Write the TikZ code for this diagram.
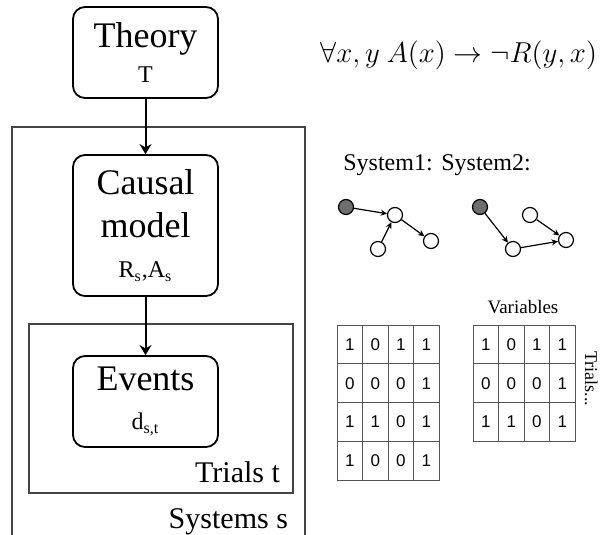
\documentclass[tikz,border=0pt]{standalone}
\usepackage{fontspec}
\setmainfont{Liberation Serif}
\newfontfamily\cellfont{Liberation Sans}
\usetikzlibrary{arrows.meta,positioning}
\definecolor{plateGray}{HTML}{444444}
\definecolor{gridGray}{HTML}{555555}
\definecolor{rootGray}{HTML}{6E6E6E}
\tikzset{
  cmArrow/.style={-{Stealth[length=5pt,width=6pt]}, line width=1pt},
  cmEdge/.style={-{Stealth[length=3.2pt,width=3pt]}, line width=0.6pt},
  cmBox/.style={
    draw,
    rounded corners=6pt,
    line width=0.9pt,
    align=center,
    minimum width=72.5pt,
    inner sep=0pt,
    font=\fontsize{18}{21}\selectfont
  },
  cmPlate/.style={draw=plateGray, line width=0.6pt},
  cmVar/.style={circle, draw, line width=0.6pt, fill=white, minimum size=7.5pt, inner sep=0pt},
  cmVarRoot/.style={cmVar, fill=rootGray},
  cmCell/.style={
    draw=gridGray,
    line width=0.5pt,
    minimum width=12.75pt,
    minimum height=19.4pt,
    inner sep=0pt,
    font=\cellfont\fontsize{8.5}{8.5}\selectfont
  }
}
\newcommand{\boxsub}{\fontsize{12}{14}\selectfont}

\begin{document}
\begin{tikzpicture}[x=0.5pt, y=-0.5pt]
  \useasboundingbox (0,0) rectangle (600,535);

  % plates
  \draw[cmPlate] (12,535) -- (12,127) -- (305,127) -- (305,535);
  \draw[cmPlate] (29,324) rectangle (293,493);
  \node[anchor=base east, font=\fontsize{15}{15}\selectfont] (systemslbl) at (295,528) {Systems s};
  \node[anchor=base east, font=\fontsize{15}{15}\selectfont] (trialslbl) at (287,482) {Trials t};

  % model levels
  \node[cmBox, minimum height=45.5pt] (theory) at (145.5,52.5)
    {Theory\\[-3.5pt]\boxsub T};
  \node[cmBox, minimum height=70.5pt] (causal) at (145.5,225.5)
    {Causal\\[0.5pt]model\\[-1pt]\boxsub R\textsubscript{s},A\textsubscript{s}};
  \node[cmBox, minimum height=45.5pt] (events) at (145.5,401.5)
    {Events\\[-1.5pt]\boxsub d\textsubscript{s,t}};
  \draw[cmArrow] (theory) -- (causal);
  \draw[cmArrow] (causal) -- (events);

  % theory formula
  \node[anchor=base west, inner sep=0pt, font=\fontsize{14}{14}\selectfont] (formula) at (320,63)
    {$\forall x, y\ A(x) \rightarrow \neg R(y,x)$};

  % example systems
  \node[anchor=base, font=\fontsize{12}{12}\selectfont] (sys1lbl) at (388,170) {System1:};
  \node[anchor=base, font=\fontsize{12}{12}\selectfont] (sys2lbl) at (486,170) {System2:};

  \node[cmVarRoot] (a1) at (346,207) {};
  \node[cmVar] (b1) at (395,215) {};
  \node[cmVar] (c1) at (431,241) {};
  \node[cmVar] (d1) at (378,249) {};
  \draw[cmEdge] (a1) -- (b1);
  \draw[cmEdge] (d1) -- (b1);
  \draw[cmEdge] (b1) -- (c1);

  \node[cmVarRoot] (a2) at (480,207) {};
  \node[cmVar] (b2) at (513,249) {};
  \node[cmVar] (c2) at (530,215) {};
  \node[cmVar] (d2) at (566,240) {};
  \draw[cmEdge] (a2) -- (b2);
  \draw[cmEdge] (b2) -- (d2);
  \draw[cmEdge] (c2) -- (d2);

  % data tables
  \foreach \r/\vals in {0/{1,0,1,1},1/{0,0,0,1},2/{1,1,0,1},3/{1,0,0,1}}
    \foreach \v [count=\c] in \vals
      \node[cmCell] (ta-\r-\c) at ({337+12.75+25.5*(\c-1)},{325+19.4+38.75*\r}) {\v};
  \foreach \r/\vals in {0/{1,0,1,1},1/{0,0,0,1},2/{1,1,0,1}}
    \foreach \v [count=\c] in \vals
      \node[cmCell] (tb-\r-\c) at ({473+12.75+25.5*(\c-1)},{325+19.4+38.75*\r}) {\v};

  \node[anchor=base, font=\fontsize{9.5}{9.5}\selectfont] (varlbl) at (523,313) {Variables};
  \node[anchor=base, rotate=-90, inner sep=1pt, font=\fontsize{9}{9}\selectfont] (trialsdots) at (585,379) {Trials...};
\end{tikzpicture}
\end{document}
